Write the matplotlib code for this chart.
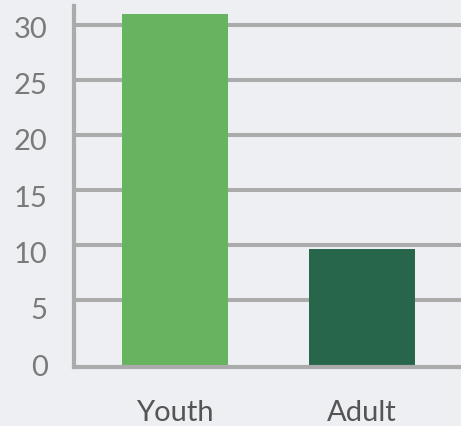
import matplotlib.pyplot as plt

categories = ["Youth", "Adult"]
values = [31, 9.6]
colors = ["#66b360", "#28664b"]
ticks = [0, 5, 10, 15, 20, 25, 30]

bg = "#eeeff3"
grid_col = "#ababab"

fig = plt.figure(figsize=(4.61, 4.27), dpi=100, facecolor=bg)
ax = fig.add_axes([74 / 461, 1 - 368 / 427, 387 / 461, 361 / 427])
ax.set_facecolor(bg)

ymin, ymax = -1.12, 31.73
ax.set_xlim(-0.54, 1.53)
ax.set_ylim(ymin, ymax)

# gridlines (the 0 line is the bottom axis)
for t in ticks[1:]:
    ax.axhline(t, color=grid_col, lw=2.9, zorder=1)

x = range(len(categories))
ax.bar(x, [v - ymin for v in values], bottom=ymin, width=0.563, color=colors, zorder=2)

for side in ["top", "right"]:
    ax.spines[side].set_visible(False)
for side in ["left", "bottom"]:
    ax.spines[side].set_color(grid_col)
    ax.spines[side].set_linewidth(3)
    ax.spines[side].set_zorder(3)

# tick labels sit a little off the gridlines in the original
label_pos = [-0.85 + 1.0253 * t for t in ticks]
ax.set_yticks(label_pos)
ax.set_yticklabels([str(t) for t in ticks], fontsize=21, color="#7a7a7a",
                   family="Lato")
ax.tick_params(axis="y", length=0, pad=19)

ax.set_xticks(list(x))
ax.set_xticklabels(categories, fontsize=21, color="#555555", family="Lato")
ax.tick_params(axis="x", length=0, pad=23)

fig.savefig("out.png", dpi=100, facecolor=bg)
